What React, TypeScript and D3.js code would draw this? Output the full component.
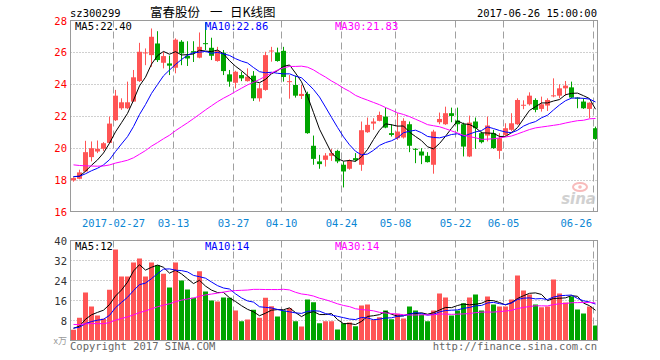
import React from "react";
import * as d3 from "d3";

// ---------- data ----------
const dates = [
  "02-16","02-17","02-20","02-21","02-22","02-23","02-24",
  "02-27","02-28","03-01","03-02","03-03",
  "03-06","03-07","03-08","03-09","03-10",
  "03-13","03-14","03-15","03-16","03-17",
  "03-20","03-21","03-22","03-23","03-24",
  "03-27","03-28","03-29","03-30","03-31",
  "04-05","04-06","04-07",
  "04-10","04-11","04-12","04-13","04-14",
  "04-17","04-18","04-19","04-20","04-21",
  "04-24","04-25","04-26","04-27","04-28",
  "05-02","05-03","05-04","05-05",
  "05-08","05-09","05-10","05-11","05-12",
  "05-15","05-16","05-17","05-18","05-19",
  "05-22","05-23","05-24","05-25","05-26",
  "05-31","06-01","06-02",
  "06-05","06-06","06-07","06-08","06-09",
  "06-12","06-13","06-14","06-15","06-16",
  "06-19","06-20","06-21","06-22","06-23",
  "06-26",
];
const tickDates = ["02-27","03-13","03-27","04-10","04-24","05-08","05-22","06-05","06-26"];
const tickLabels = ["2017-02-27","03-13","03-27","04-10","04-24","05-08","05-22","06-05","06-26"];

const opens = [
  17.98,18.08,18.54,19.44,19.79,19.96,20.33,21.75,22.5,22.5,
  22.92,24.2,25.97,25.83,26.56,25.35,25.31,25.04,26.67,25.79,
  26.08,25.67,26.58,26.29,25.46,25.98,24.625,24.1,24.58,24.2,
  24.54,23.125,23.65,26.08,26.0,26.1,24.15,23.96,23.27,23.4,
  20.15,19.17,19.27,19.52,19.83,18.96,18.71,19.375,18.96,21.0,
  21.54,21.71,21.98,20.94,20.625,20.67,21.5,19.96,19.79,19.52,
  18.96,21.625,21.5,22.19,21.73,21.5,19.48,21.67,20.94,20.79,
  20.94,19.83,20.83,21.15,21.5,22.68,22.75,23.02,22.46,22.67,
  23.27,23.29,23.75,23.81,23.17,22.92,22.46,21.25,
];
const highs = [
  18.17,18.65,20.46,20.42,20.48,20.38,21.98,23.65,23.125,24.17,
  24.9,26.6,26.25,27.5,27.33,26.04,25.8,26.88,26.77,26.7,
  26.7,27.25,27.9,26.92,26.35,26.15,24.9,24.85,24.79,25.0,
  24.83,24.06,26.04,26.35,26.3,26.35,24.58,24.54,23.96,23.54,
  20.79,19.58,19.69,19.96,19.9,19.17,19.29,19.69,21.67,21.92,
  21.875,22.29,22.54,21.5,22.19,21.875,21.67,20.0,20.0,19.75,
  21.15,22.23,22.6,22.54,22.54,21.6,22.04,21.92,21.04,21.98,
  21.15,20.94,21.56,22.19,23.125,23.0,23.5,23.125,23.23,23.125,
  24.375,24.0,24.21,24.17,23.19,23.125,22.87,21.35,
];
const lows = [
  17.9,18.05,18.5,19.17,19.69,19.83,20.31,21.7,22.4,22.45,
  22.9,24.15,25.2,25.1,25.4,25.0,24.58,24.69,25.2,25.15,
  25.4,25.63,26.15,25.52,25.42,24.58,23.85,23.75,24.2,24.17,
  22.96,22.92,23.6,25.42,25.42,24.17,23.1,23.17,23.08,20.9,
  18.96,18.71,18.85,19.2,19.06,17.54,18.65,19.17,18.58,20.96,
  21.15,21.68,21.25,20.73,20.52,20.6,19.75,19.06,19.0,19.1,
  18.4,21.5,21.46,21.625,21.04,19.48,19.44,19.96,20.3,20.42,
  19.96,19.33,20.73,21.06,21.46,22.44,22.67,22.25,22.29,22.33,
  23.19,23.125,23.29,23.125,22.5,22.46,21.875,20.52,
];
const closes = [
  18.125,18.48,19.75,20.0,19.96,20.31,21.54,23.29,22.875,22.875,
  24.44,26.04,26.0,26.98,25.52,25.77,25.17,26.8,25.94,25.62,
  25.98,26.35,26.52,25.79,26.1,24.83,24.17,24.79,24.375,24.48,
  23.125,23.75,25.83,26.12,25.46,24.46,24.2,23.29,23.4,20.94,
  19.33,19.0,19.54,19.69,19.17,18.54,19.21,19.25,21.125,21.46,
  21.67,22.08,21.29,20.83,21.04,21.71,20.15,19.92,19.54,19.125,
  21.04,21.83,22.19,22.02,21.5,20.1,21.6,21.25,20.375,21.42,
  20.0,20.625,21.25,21.56,23.02,22.72,23.29,22.4,22.75,23.02,
  23.31,23.75,23.92,23.17,23.1,22.5,22.85,20.58,
];
// closes of the 29 sessions before the first visible one (feed the moving averages)
const priorCloses = [
  19.7,20.3,20.5,20.2,19.9,19.6,19.8,20.3,20.1,19.8,
  19.4,19.1,18.7,18.8,18.5,18.6,18.3,18.4,18.3,18.1,
  18.3,18.2,18.1,18.4,18.2,18.3,18.2,18.1,18.3,
];
const volumes = [
  4.3,9.1,19.2,13.6,10,8.7,20.3,36.4,25.6,25.6,
  31.2,32.8,25.6,31.2,30.1,26.7,21.2,31.2,24,20.4,
  17.1,27.7,19.6,16,15.6,17.2,17.1,12,7.7,8.4,
  12.3,9.1,17.1,13.7,9.6,12,12.9,7.7,5.6,16.4,
  15.3,6.9,7.7,7.7,4.4,6.9,7.2,5.7,14,14.4,
  8.3,9.3,12,8.5,10.7,8.8,13.6,12,10.4,7.7,
  12,18.8,17.2,10,12,14.9,17.2,18.4,12,17.6,
  14.4,13.6,13.6,16.4,26,20,18.4,14.4,13.3,13.6,
  24.4,18.8,15.2,17.6,12.4,10.8,13.6,6,
];
const priorVolumes = [
  11,10.5,10,10.5,9.5,7,6.5,6,7,6.2,
  5.5,6,5.8,6.3,5.4,6.2,5.7,5.5,6.4,6.1,
  5.2,4.8,5.5,4.6,4.8,5.0,5.3,4.7,5.2,
];
const priceTicks = [28, 26, 24, 22, 20, 18, 16];
const volTicks = [40, 32, 24, 16, 8];
const maPeriods = [5, 10, 30];
const maColors = ["#000000", "#0000ff", "#ff00ff"];
const priceMaLabels = ["MA5:22.40", "MA10:22.86", "MA30:21.83"];
const volMaLabels = ["MA5:12", "MA10:14", "MA30:14"];

// ---------- helpers ----------
function movingAverage(prior: number[], vals: number[], n: number): number[] {
  const all = prior.concat(vals);
  const off = prior.length;
  return vals.map((_, i) => {
    const end = off + i;
    const start = Math.max(0, end - n + 1);
    const slice = all.slice(start, end + 1);
    return d3.mean(slice) as number;
  });
}

const MONO = "'DejaVu Sans Mono', 'Liberation Mono', monospace";
const UP = "#ff5555";
const DOWN = "#00a400";
const GRID = "#a0a0a0";

export default function App() {
  const n = closes.length;
  const x = d3.scaleLinear().domain([0, n - 1]).range([73.5, 73.5 + 6 * (n - 1)]);
  const y = d3.scaleLinear().domain([16, 28]).range([212, 20.5]);
  const yv = d3.scaleLinear().domain([0, 40]).range([340.5, 240.5]);
  const left = 70.5, right = 597.5;
  const bodyW = 5;

  const priceMAs = maPeriods.map((p) => movingAverage(priorCloses, closes, p));
  const volMAs = maPeriods.map((p) => movingAverage(priorVolumes, volumes, p));
  const lineP = d3.line<number>().x((_, i) => x(i)).y((d) => y(d));
  const lineV = d3.line<number>().x((_, i) => x(i)).y((d) => yv(d));

  const tickIdx = tickDates.map((d) => dates.indexOf(d));
  const gx = (i: number) => Math.round(x(i) - 3) + 0.5;

  return (
    <svg width={660} height={360} style={{ position: "absolute", left: 0, top: 0, background: "#fff" }}
      fontFamily={MONO}>
      <rect x={0} y={0} width={660} height={360} fill="#fff" />
      {/* header */}
      <text x={70} y={16.5} fontSize={10.5} fill="#000">sz300299</text>
      <text y={17} fontSize={12.5} fill="#000" fontFamily="'Noto Sans CJK SC', sans-serif">
        <tspan x={150}>富春股份</tspan>
        <tspan x={210}>一</tspan>
        <tspan x={230}>日K线图</tspan>
      </text>
      <text x={597} y={16.5} fontSize={10.5} fill="#000" textAnchor="end">2017-06-26 15:00:00</text>

      {/* main grid */}
      {priceTicks.slice(1, -1).map((t) => (
        <line key={"hp" + t} x1={left} x2={right} y1={Math.round(y(t)) + 0.5} y2={Math.round(y(t)) + 0.5}
          stroke={GRID} strokeDasharray="1,2" />
      ))}
      {tickIdx.map((i, k) => (
        <line key={"vp" + k} x1={gx(i)} x2={gx(i)} y1={20.5} y2={211.5} stroke={GRID} strokeDasharray="7,4" />
      ))}
      {priceTicks.map((t) => (
        <text key={"pt" + t} x={67} y={y(t) + 4} fontSize={10.5} fill="#ff0000" textAnchor="end">{t}</text>
      ))}
      {tickIdx.map((i, k) => {
        const lab = tickLabels[k];
        const w = lab.length * 6.3;
        const cx = gx(i);
        const anchorEnd = cx + w / 2 > 594;
        return (
          <text key={"xl" + k} x={anchorEnd ? 592 : cx} y={227} fontSize={10.5} fill="#0b86d4"
            textAnchor={anchorEnd ? "end" : "middle"}>{lab}</text>
        );
      })}

      {/* sina watermark */}
      <g opacity={0.85}>
        <ellipse cx={580} cy={187} rx={7} ry={4} fill="none" stroke="#f7b0b0" strokeWidth={2} />
        <circle cx={580} cy={187} r={1.8} fill="#f7b0b0" />
        <text x={596} y={204} fontSize={15} fontStyle="italic" fontWeight="bold" fill="#c9c9c9"
          textAnchor="end" fontFamily="'DejaVu Sans', sans-serif">sina</text>
      </g>

      {/* candles */}
      {closes.map((c, i) => {
        const o = opens[i];
        const up = c >= o;
        const col = up ? UP : DOWN;
        const top = y(Math.max(o, c));
        const bot = y(Math.min(o, c));
        const cx = Math.floor(x(i)) + 0.5;
        return (
          <g key={"c" + i}>
            <line x1={cx} x2={cx} y1={y(highs[i])} y2={y(lows[i])} stroke={col} strokeWidth={1} />
            <rect x={Math.floor(x(i)) - 2} y={top} width={bodyW} height={Math.max(1, bot - top)} fill={col} />
          </g>
        );
      })}
      {priceMAs.map((m, k) => (
        <path key={"pm" + k} d={lineP(m) || ""} fill="none" stroke={maColors[k]} strokeWidth={1} />
      ))}
      <rect x={left} y={20.5} width={right - left} height={191} fill="none" stroke="#9a9a9a" />
      {priceMaLabels.map((t, k) => (
        <text key={"pl" + k} x={[75, 205, 335][k]} y={30} fontSize={10.5} fill={maColors[k]}>{t}</text>
      ))}

      {/* volume grid */}
      {volTicks.slice(1).map((t) => (
        <line key={"hv" + t} x1={left} x2={right} y1={yv(t)} y2={yv(t)} stroke={GRID} strokeDasharray="1,2" />
      ))}
      {tickIdx.map((i, k) => (
        <line key={"vv" + k} x1={gx(i)} x2={gx(i)} y1={240.5} y2={340.5} stroke={GRID} strokeDasharray="7,4" />
      ))}
      {volTicks.map((t) => (
        <text key={"vt" + t} x={67} y={yv(t) + 4} fontSize={10.5} fill="#333" textAnchor="end">{t}</text>
      ))}
      <text x={67} y={344} fontSize={9} fill="#999" textAnchor="end" fontFamily="'Noto Sans CJK SC', sans-serif">x万</text>
      {volumes.map((v, i) => {
        const up = closes[i] >= opens[i];
        return (
          <rect key={"v" + i} x={Math.floor(x(i)) - 2} y={yv(v)} width={bodyW} height={yv(0) - yv(v)}
            fill={up ? UP : DOWN} />
        );
      })}
      {volMAs.map((m, k) => (
        <path key={"vm" + k} d={lineV(m) || ""} fill="none" stroke={maColors[k]} strokeWidth={1} />
      ))}
      <rect x={left} y={240.5} width={right - left} height={100} fill="none" stroke="#9a9a9a" />
      {volMaLabels.map((t, k) => (
        <text key={"vl" + k} x={[75, 205, 335][k]} y={250} fontSize={10.5} fill={maColors[k]}>{t}</text>
      ))}

      {/* footer */}
      <text x={70} y={349.5} fontSize={10.5} fill="#666">Copyright 2017 SINA.COM</text>
      <text x={597} y={349.5} fontSize={10.5} fill="#666" textAnchor="end">http://finance.sina.com.cn</text>
    </svg>
  );
}
